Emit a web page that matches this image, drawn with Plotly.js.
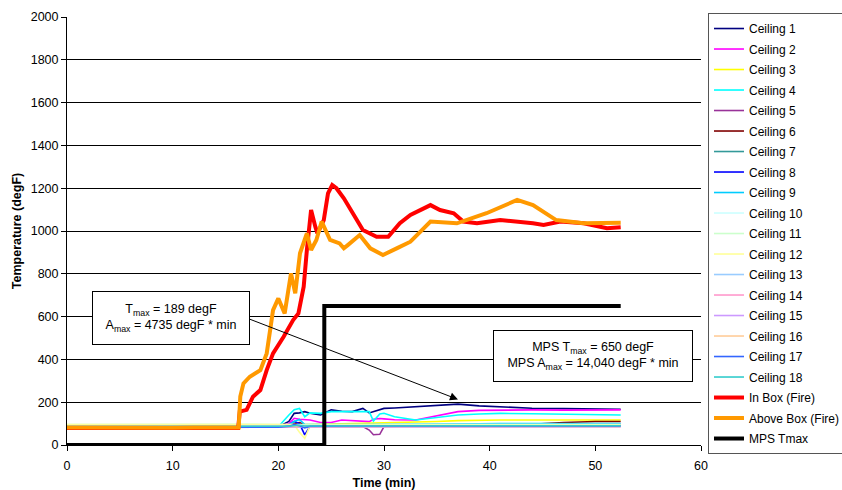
<!DOCTYPE html>
<html>
<head>
<meta charset="utf-8">
<script src="https://cdn.plot.ly/plotly-3.0.1.min.js"></script>
<style>html,body{margin:0;padding:0;background:#fff;}#chart{width:842px;height:490px;}</style>
</head>
<body>
<div id="chart"></div>
<script>
// ---- Data ----
var ceilingTime = [0,5,10,15,20,21,21.5,22,22.5,23,24,25,26,27,28,28.6,29,29.6,30,31,33,35,37,39,41,44,47,50,52.4];

var ceiling1  = [82,83,82,83,85,110,148,150,156,148,140,164,158,156,171,150,156,168,171,173,179,185,191,183,178,172,170,168,167];
var ceiling2  = [82,82,83,82,84,100,125,120,118,117,105,105,117,115,110,109,120,124,122,118,117,135,156,162,164,164,163,164,164];
var ceiling3  = [85,86,85,86,86,88,92,95,95,95,96,97,98,100,100,101,102,103,104,106,108,110,114,116,117,117,117,117,117];
var ceiling4  = [84,84,85,84,85,140,165,171,132,150,148,156,156,155,156,156,112,145,148,132,117,128,140,145,148,146,143,141,140];
var ceiling5  = [80,81,80,81,81,84,88,86,84,85,86,85,84,85,86,70,48,50,86,88,90,92,94,95,95,96,96,97,97];
var ceiling6  = [82,82,83,82,83,90,100,105,95,92,92,92,92,92,92,92,92,92,92,92,92,92,94,95,96,97,105,110,110];
var ceiling7  = [83,83,84,83,84,86,90,95,88,88,88,88,88,88,88,88,88,88,88,88,88,88,89,89,90,90,90,90,90];
var ceiling8  = [82,82,83,82,83,95,110,100,47,88,90,92,90,90,90,89,88,89,90,90,90,90,92,92,92,93,93,93,93];
var ceiling9  = [84,84,85,84,85,95,110,120,95,95,96,97,96,96,96,96,96,96,96,96,96,97,98,99,100,100,100,100,100];
var ceiling10 = [92,93,92,93,93,94,95,95,95,95,95,95,95,95,95,95,95,95,95,95,95,95,95,95,95,95,95,95,95];
var ceiling11 = [96,97,96,97,96,96,96,95,95,95,95,95,95,95,95,95,95,95,95,95,95,95,95,95,95,95,95,95,95];
var ceiling12 = [95,96,95,96,95,94,95,60,31,90,92,92,92,92,92,92,92,92,92,92,92,92,92,92,92,92,92,92,92];
var ceiling13 = [88,88,89,88,88,89,89,89,88,88,88,88,88,88,88,88,88,88,88,88,88,88,88,88,88,88,88,88,88];
var ceiling14 = [85,85,86,85,85,86,87,87,86,86,86,86,86,86,86,86,86,86,86,86,86,86,86,86,86,86,86,86,86];
var ceiling15 = [84,84,85,84,84,85,86,86,85,85,85,85,85,85,85,85,85,85,85,85,85,85,85,85,85,85,85,85,85];
var ceiling16 = [86,86,87,86,86,87,88,88,87,87,87,87,87,87,87,87,87,87,87,87,87,87,87,87,87,87,87,87,87];
var ceiling17 = [83,83,84,83,83,88,95,90,80,88,89,89,89,89,89,89,89,89,89,89,89,89,89,89,89,89,89,89,89];
var ceiling18 = [86,86,87,86,86,88,90,92,89,89,90,90,90,90,90,90,90,90,90,90,90,90,90,90,90,90,90,90,90];

var inBoxTime = [0,2,4,6,8,10,12,14,16.2,16.35,17.0,17.6,18.3,18.9,19.5,20.5,21.4,21.9,22.4,22.7,23.1,23.5,23.7,24.3,24.7,25.1,25.5,26.2,27.1,28.0,29.3,30.4,31.5,32.5,34.4,35.3,36.6,37.5,38.8,41.0,44.1,45.1,46.7,48.9,51.1,52.4];
var inBoxTemp = [80,79,80,79,80,79,80,79,80,156,164,226,257,350,428,506,584,615,740,911,1098,1020,989,1051,1176,1215,1200,1153,1083,1005,973,973,1036,1075,1121,1098,1083,1044,1036,1051,1036,1028,1044,1036,1013,1017];

var aboveBoxTime = [0,2,4,6,8,10,12,14,16.25,16.4,16.7,17.3,18.3,18.9,19.2,19.5,20.0,20.6,21.2,21.6,22.05,22.7,23.1,23.6,24.1,24.9,25.8,26.2,26.6,27.7,28.7,29.9,31.2,32.5,34.4,36.9,39.7,42.6,44.1,46.3,48.9,52.4];
var aboveBoxTemp = [82,81,82,81,82,81,82,81,82,226,288,319,350,428,537,630,685,615,802,709,896,989,911,958,1044,958,942,919,935,981,919,888,919,950,1044,1036,1083,1145,1121,1051,1036,1039];

var mpsTime = [0,24.35,24.35,52.4];
var mpsTemp = [0,0,650,650];

var ceilingNames = ["Ceiling 1","Ceiling 2","Ceiling 3","Ceiling 4","Ceiling 5","Ceiling 6","Ceiling 7","Ceiling 8","Ceiling 9","Ceiling 10","Ceiling 11","Ceiling 12","Ceiling 13","Ceiling 14","Ceiling 15","Ceiling 16","Ceiling 17","Ceiling 18"];
var ceilingValues = [ceiling1,ceiling2,ceiling3,ceiling4,ceiling5,ceiling6,ceiling7,ceiling8,ceiling9,ceiling10,ceiling11,ceiling12,ceiling13,ceiling14,ceiling15,ceiling16,ceiling17,ceiling18];
var ceilingColors = ["#000080","#FF00FF","#FFFF00","#00FFFF","#993399","#800000","#339999","#0000FF","#00CCFF","#CCFFFF","#CCFFCC","#FFFF99","#99CCFF","#FF99CC","#CC99FF","#FFCC99","#3366FF","#33CCCC"];

var FONT = "Liberation Sans, Arial, sans-serif";

var traces = [];
for (var i = 0; i < ceilingNames.length; i++) {
  traces.push({
    type: "scatter", mode: "lines", name: ceilingNames[i], legendgroup: "g" + i,
    x: ceilingTime, y: ceilingValues[i],
    line: {color: ceilingColors[i], width: 1.6}
  });
}
traces.push({type:"scatter", mode:"lines", name:"In Box (Fire)", legendgroup:"gA",
  x: inBoxTime, y: inBoxTemp, line:{color:"#FF0000", width:4}});
traces.push({type:"scatter", mode:"lines", name:"Above Box (Fire)", legendgroup:"gB",
  x: aboveBoxTime, y: aboveBoxTemp, line:{color:"#FF9900", width:4}});
traces.push({type:"scatter", mode:"lines", name:"MPS Tmax", legendgroup:"gC",
  x: mpsTime, y: mpsTemp, line:{color:"#000000", width:4}});

var layout = {
  width: 842, height: 490,
  margin: {l:67, r:141, t:17, b:45, pad:0, autoexpand:false},
  paper_bgcolor: "#ffffff", plot_bgcolor: "#ffffff",
  font: {family: FONT, size: 12.5, color: "#000"},
  showlegend: true,
  xaxis: {
    range: [0,60], tick0: 0, dtick: 10, ticks: "outside", ticklen: 5, tickcolor: "#000",
    showline: true, linecolor: "#000", linewidth: 1, showgrid: false, zeroline: false,
    tickfont: {family: FONT, size: 12.5, color:"#000"}, ticklabelstandoff: 4,
    title: {text: "<b>Time (min)</b>", font: {family: FONT, size: 12.5, color:"#000"}, standoff: 6},
    automargin: false
  },
  yaxis: {
    range: [0,2000], tick0: 0, dtick: 200, ticks: "outside", ticklen: 5, tickcolor: "#000",
    showline: true, linecolor: "#000", linewidth: 1, showgrid: true, gridcolor: "#000", gridwidth: 1,
    zeroline: false,
    tickfont: {family: FONT, size: 12.5, color:"#000"},
    title: {text: "<b>Temperature (degF)</b>", font: {family: FONT, size: 12.5, color:"#000"}, standoff: 6},
    automargin: false
  },
  legend: {
    x: 1.011, y: 1.0093, xanchor: "left", yanchor: "top",
    bgcolor: "#ffffff", bordercolor: "#555555", borderwidth: 1,
    font: {family: FONT, size: 12, color: "#000"},
    tracegroupgap: 1.5, itemwidth: 30, maxheight: 480
  },
  annotations: [
    {xref:"x", yref:"y", x: 9.85, y: 593, showarrow: false,
     text: "T<sub>max</sub> = 189 degF<br>A<sub>max</sub> = 4735 degF * min",
     font: {family: FONT, size: 12.5, color:"#000"}, align: "center",
     bgcolor: "#ffffff", bordercolor: "#000", borderwidth: 1, borderpad: 2, width: 152, height: 48},
    {xref:"x", yref:"y", x: 49.78, y: 418, showarrow: false,
     text: "MPS T<sub>max</sub> = 650 degF<br>MPS A<sub>max</sub> = 14,040 degF * min",
     font: {family: FONT, size: 12.5, color:"#000"}, align: "center",
     bgcolor: "#ffffff", bordercolor: "#000", borderwidth: 1, borderpad: 2, width: 194, height: 46},
    {xref:"x", yref:"y", x: 37.0, y: 213, axref:"x", ayref:"y", ax: 17.03, ay: 593,
     text: " ", showarrow: true, arrowhead: 2, arrowsize: 1.6, arrowwidth: 1, arrowcolor: "#000"}
  ]
};

Plotly.newPlot("chart", traces, layout, {staticPlot: true, displayModeBar: false});
</script>
</body>
</html>
